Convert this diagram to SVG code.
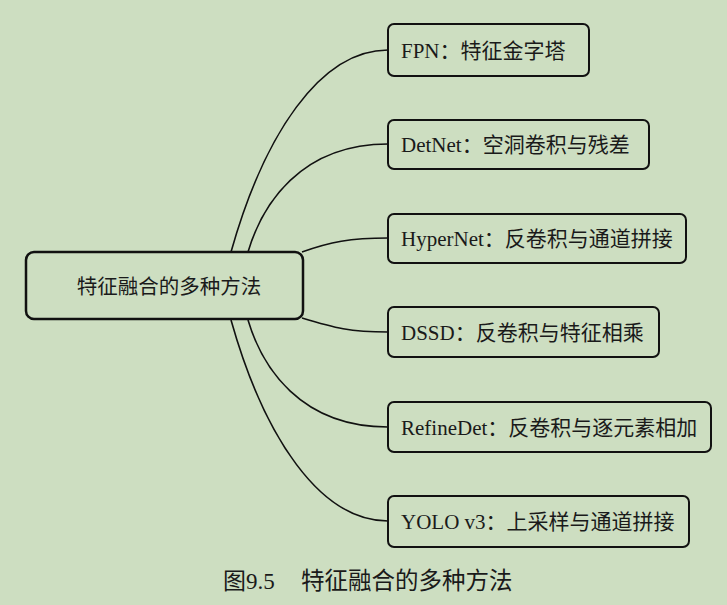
<svg xmlns="http://www.w3.org/2000/svg" width="727" height="605" viewBox="0 0 727 605">
<style>
.bg{fill:#cddec1}
.box{fill:#cddec1;stroke:#111;stroke-width:2}
.main{fill:#cddec1;stroke:#111;stroke-width:2.5}
.lbl{font-family:"Liberation Serif","Noto Sans CJK SC",serif;font-size:21px;fill:#1a1a1a}
.ctr{font-family:"Noto Sans CJK SC",sans-serif;font-size:20.5px;fill:#1a1a1a;text-anchor:middle}
.cap{font-family:"Liberation Serif","Noto Sans CJK SC",serif;font-size:23px;fill:#1a1a1a}
.edge{fill:none;stroke:#111;stroke-width:1.6}
</style>
<rect class="bg" x="0" y="0" width="727" height="605"/>
<g id="connectors">
<path class="edge" d="M231,252 C264,135 320,50 388,50"/>
<path class="edge" d="M248,252 C262,205 300,144 388,144"/>
<path class="edge" d="M302,252 C330,242 350,238 388,238"/>
<path class="edge" d="M302,318 C335,328 350,332 388,332"/>
<path class="edge" d="M248,320 C262,367 300,427 388,427"/>
<path class="edge" d="M231,320 C264,437 320,521 388,521"/>
</g>
<g id="center">
<rect class="main" x="26" y="252" width="277" height="67" rx="8"/>
<text class="ctr" x="169" y="294">特征融合的多种方法</text>
</g>
<g id="fpn">
<rect class="box" x="388" y="24" width="201" height="52" rx="6"/>
<text class="lbl" x="401" y="58">FPN：特征金字塔</text>
</g>
<g id="detnet">
<rect class="box" x="388" y="120" width="261" height="49" rx="6"/>
<text class="lbl" x="401" y="152">DetNet：空洞卷积与残差</text>
</g>
<g id="hypernet">
<rect class="box" x="388" y="214" width="298" height="49" rx="6"/>
<text class="lbl" x="401" y="246">HyperNet：反卷积与通道拼接</text>
</g>
<g id="dssd">
<rect class="box" x="388" y="307" width="271" height="50" rx="6"/>
<text class="lbl" x="401" y="340">DSSD：反卷积与特征相乘</text>
</g>
<g id="refinedet">
<rect class="box" x="388" y="402" width="323" height="50" rx="6"/>
<text class="lbl" x="401" y="435">RefineDet：反卷积与逐元素相加</text>
</g>
<g id="yolov3">
<rect class="box" x="388" y="496" width="301" height="51" rx="6"/>
<text class="lbl" x="401" y="529">YOLO v3：上采样与通道拼接</text>
</g>
<g id="caption">
<text class="cap" x="223" y="589">图9.5</text>
<text class="cap" x="301" y="589" style="font-size:23.5px">特征融合的多种方法</text>
</g>
</svg>
